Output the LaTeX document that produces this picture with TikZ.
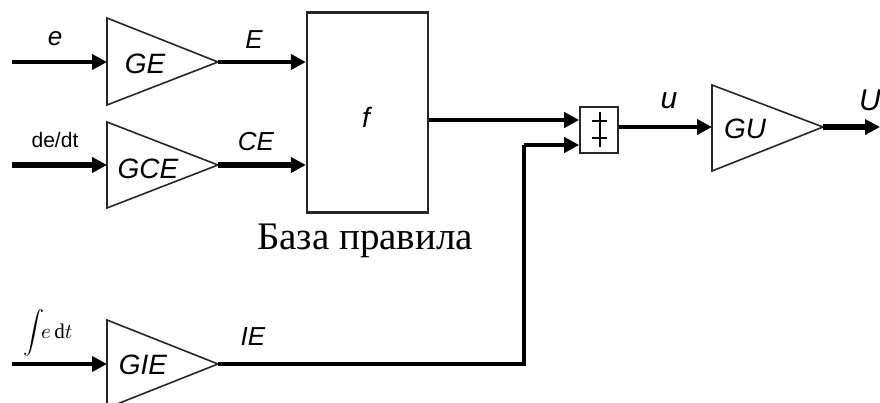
\documentclass[tikz,border=0pt]{standalone}
\usepackage{graphicx}
\usepackage{fontspec}
\setmainfont{Liberation Serif}
\newfontfamily\lsans{Liberation Sans}
\usetikzlibrary{arrows.meta}
\begin{document}
\begin{tikzpicture}[x=1pt,y=-1pt,
  sig/.style={line width=3.8pt,-{Triangle[length=15pt,width=15pt]}},
  thicksig/.style={line width=5.4pt,-{Triangle[length=15pt,width=15pt]}},
  wire/.style={line width=3.8pt},
  tri/.style={line width=1.6pt,draw=black!85},
  gainlbl/.style={font=\lsans\itshape\fontsize{28}{30}\selectfont,inner sep=0pt},
  siglbl/.style={font=\lsans\itshape\fontsize{26}{28}\selectfont,inner sep=0pt},
  blk/.style={draw=black!85,line width=2.2pt,inner sep=0pt}]
\useasboundingbox (0,0) rectangle (880,403);
% gain triangles
\coordinate (geIn) at (107,62);  \coordinate (geOut) at (218,62);
\coordinate (gceIn) at (107,165); \coordinate (gceOut) at (218,165);
\coordinate (gieIn) at (107,364); \coordinate (gieOut) at (218,364);
\coordinate (guIn) at (712,127); \coordinate (guOut) at (823,127);
\draw[tri] (107,18) -- (geOut) -- (107,105) -- cycle;
\draw[tri] (107,122) -- (gceOut) -- (107,208) -- cycle;
\draw[tri] (107,320) -- (gieOut) -- (107,408) -- cycle;
\draw[tri] (712,85) -- (guOut) -- (712,171) -- cycle;
\node[gainlbl] (gel) at (145,64) {GE};
\node[gainlbl] (gcel) at (148,169) {GCE};
\node[gainlbl] (giel) at (143,365) {GIE};
\node[gainlbl] (gul) at (745,129) {GU};
% rule base
\node[blk,minimum width=121pt,minimum height=200pt] (f) at (367.5,112.5) {};
\node[gainlbl] (fl) at (366,117) {f};
\node[font=\fontsize{39}{42}\selectfont,inner sep=0pt] (base) at (365,241) {База правила};
% sum
\node[blk,line width=1.6pt,minimum width=38pt,minimum height=46pt] (sum) at (599,130) {};
\draw[line width=1.3pt] (600,112) -- (600,147);
\draw[line width=1.3pt] (592,121) -- (607,121);
\draw[line width=1.3pt] (592,138) -- (607,138);
% inputs
\coordinate (eS) at (12,62);
\coordinate (dS) at (12,165);
\coordinate (iS) at (12,364);
\draw[sig] (eS) -- (geIn);
\draw[thicksig] (dS) -- (gceIn);
\draw[sig] (iS) -- (gieIn);
\draw[sig] (geOut) -- (f.west |- geOut);
\draw[thicksig] (gceOut) -- (f.west |- gceOut);
\coordinate (fo) at (f.east |- 0,120);
\draw[sig] (fo) -- (sum.west |- fo);
\coordinate (bend) at (524,145);
\draw[wire] (gieOut) -- (bend |- gieOut) -- (bend);
\draw[sig] (bend) -- (sum.west |- bend);
\draw[sig] (sum.east |- guIn) -- (guIn);
\coordinate (uEnd) at (880,127);
\draw[thicksig] (guOut) -- (uEnd);
% labels
\node[siglbl] (el) at (55,39) {e};
\node[siglbl] (El) at (254,40) {E};
\node[font=\lsans\fontsize{21}{23}\selectfont,inner sep=0pt] (dl) at (55,140) {de/dt};
\node[siglbl] (CEl) at (256,142) {CE};
\node[inner sep=0pt] (il) at (48,333) {\scalebox{2.1}{$\displaystyle\int\!\! e\,\mathrm{d}t$}};
\node[siglbl] (IEl) at (253,337) {IE};
\node[siglbl,font=\lsans\itshape\fontsize{30}{32}\selectfont] (ul) at (669,101) {u};
\node[siglbl,font=\lsans\itshape\fontsize{30}{32}\selectfont] (Ul) at (870,100) {U};
\end{tikzpicture}
\end{document}
